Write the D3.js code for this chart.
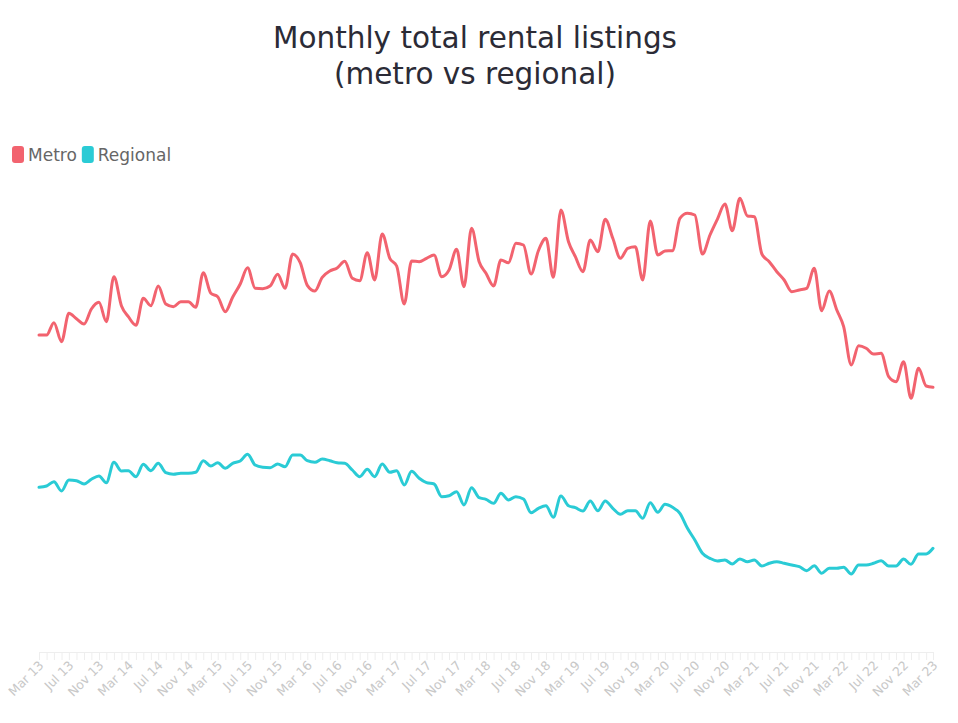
<!DOCTYPE html>
<html>
<head>
<meta charset="utf-8">
<script src="https://cdn.jsdelivr.net/npm/d3@7"></script>
<style>
  html, body { margin: 0; padding: 0; background: #fff; }
  svg { display: block; }
</style>
</head>
<body>
<svg id="chart" width="958" height="723"></svg>
<script>
// ---- data ----
const startMonth = "2013-03";
const endMonth = "2023-03";
const seriesNames = ["Metro", "Regional"];
const seriesColors = ["#F2636F", "#2ACBD5"];
const metroValues = [31700,31700,32930,31030,33870,33330,32800,34300,34970,33030,37530,34600,33530,32670,35370,34630,36600,34800,34530,35030,35030,34470,37930,35870,35530,34030,35470,36800,38430,36370,36330,36600,37770,36370,39800,38930,36670,36100,37470,38100,38400,39070,37370,37130,39930,37200,41800,39370,38600,34800,39100,39030,39370,39700,37530,38200,40270,36530,42370,39030,37870,36600,39200,38930,40870,40700,37800,40130,41370,37470,44200,41030,39530,38030,41200,40030,43270,41370,39370,40370,40530,37200,43100,39700,40100,40130,43370,43870,43700,39800,41700,43270,44800,42130,45370,43600,43530,39800,39030,38030,37200,36030,36200,36370,38370,34130,36100,34200,32530,28700,30630,30370,29800,29870,27530,27030,29030,25370,28370,26600,26470];
const regionalValues = [16470,16600,17030,16100,17200,17130,16800,17270,17600,16930,18970,18100,18130,17530,18770,18130,18870,17930,17770,17870,17870,17970,19130,18600,18930,18370,18870,19100,19770,18700,18470,18430,18800,18530,19700,19700,19130,18970,19300,19130,18920,18870,18200,17530,18270,17530,18800,17970,18130,16700,18070,17370,16930,16800,15530,15630,16030,14700,16430,15430,15270,14870,15870,15200,15530,15300,13930,14370,14630,13470,15600,14630,14430,14100,15100,14130,15100,14370,13770,14130,14130,13370,14930,13970,14770,14470,13870,12370,11200,9870,9370,9100,9200,8800,9300,9030,9200,8600,8870,9030,8870,8700,8530,8130,8630,7870,8370,8370,8470,7800,8700,8700,8870,9130,8600,8600,9300,8770,9800,9800,10370];
const tickLabels = ["Mar 13","Jul 13","Nov 13","Mar 14","Jul 14","Nov 14","Mar 15","Jul 15","Nov 15","Mar 16","Jul 16","Nov 16","Mar 17","Jul 17","Nov 17","Mar 18","Jul 18","Nov 18","Mar 19","Jul 19","Nov 19","Mar 20","Jul 20","Nov 20","Mar 21","Jul 21","Nov 21","Mar 22","Jul 22","Nov 22","Mar 23"];
const titleLines = ["Monthly total rental listings", "(metro vs regional)"];
const yMax = 47200;

// ---- chart ----
const parse = d3.timeParse("%Y-%m");
const months = d3.timeMonth.range(parse(startMonth), d3.timeMonth.offset(parse(endMonth), 1));
const svg = d3.select("#chart");

const x = d3.scaleTime().domain([months[0], months[months.length - 1]]).range([39, 933]);
const y = d3.scaleLinear().domain([0, yMax]).range([652, 180]);

// title
const title = svg.append("text").attr("x", 475).attr("text-anchor", "middle")
  .style("font-family", "'DejaVu Sans', sans-serif").style("font-size", "29px").style("fill", "#2b2b36");
title.append("tspan").attr("x", 475).attr("y", 48).text(titleLines[0]);
title.append("tspan").attr("x", 475).attr("y", 84).text(titleLines[1]);
const w0 = title.select("tspan").node().getComputedTextLength();
title.style("font-size", (29 * 404 / w0).toFixed(2) + "px");

// legend
const legend = svg.append("g").attr("transform", "translate(12,146)");
let lx = 0;
seriesNames.forEach((name, k) => {
  const g = legend.append("g").attr("transform", `translate(${lx},0)`);
  g.append("rect").attr("width", 12).attr("height", 17).attr("rx", 3).attr("fill", seriesColors[k]);
  const t = g.append("text").attr("x", 16).attr("y", 15)
    .style("font-family", "'DejaVu Sans', sans-serif").style("font-size", "17px").style("fill", "#666")
    .text(name);
  lx += 16 + t.node().getComputedTextLength() + 5;
});

// axis
const labelByTime = new Map();
months.forEach((m, i) => { if (i % 4 === 0) labelByTime.set(+m, tickLabels[i / 4]); });
const axis = d3.axisBottom(x).tickValues(months).tickSize(8).tickSizeOuter(0)
  .tickFormat(d => labelByTime.get(+d) || "");
const gx = svg.append("g").attr("transform", "translate(0,652)").call(axis);
gx.select(".domain").attr("stroke", "#eeeeee");
gx.selectAll(".tick line").attr("stroke", "#eeeeee");
gx.selectAll(".tick text")
  .style("font-family", "'DejaVu Sans', sans-serif").style("font-size", "12.5px").style("fill", "#c8c8c8")
  .attr("text-anchor", "end").attr("dy", 0).attr("dx", 0).attr("y", 0)
  .attr("transform", "translate(5,14) rotate(-45)");

// lines
const line = d3.line().x((d, i) => x(months[i])).y(d => y(d)).curve(d3.curveMonotoneX);
[metroValues, regionalValues].forEach((vals, k) => {
  svg.append("path").datum(vals).attr("d", line)
    .attr("fill", "none").attr("stroke", seriesColors[k]).attr("stroke-width", 3)
    .attr("stroke-linejoin", "round").attr("stroke-linecap", "round");
});
</script>
</body>
</html>
